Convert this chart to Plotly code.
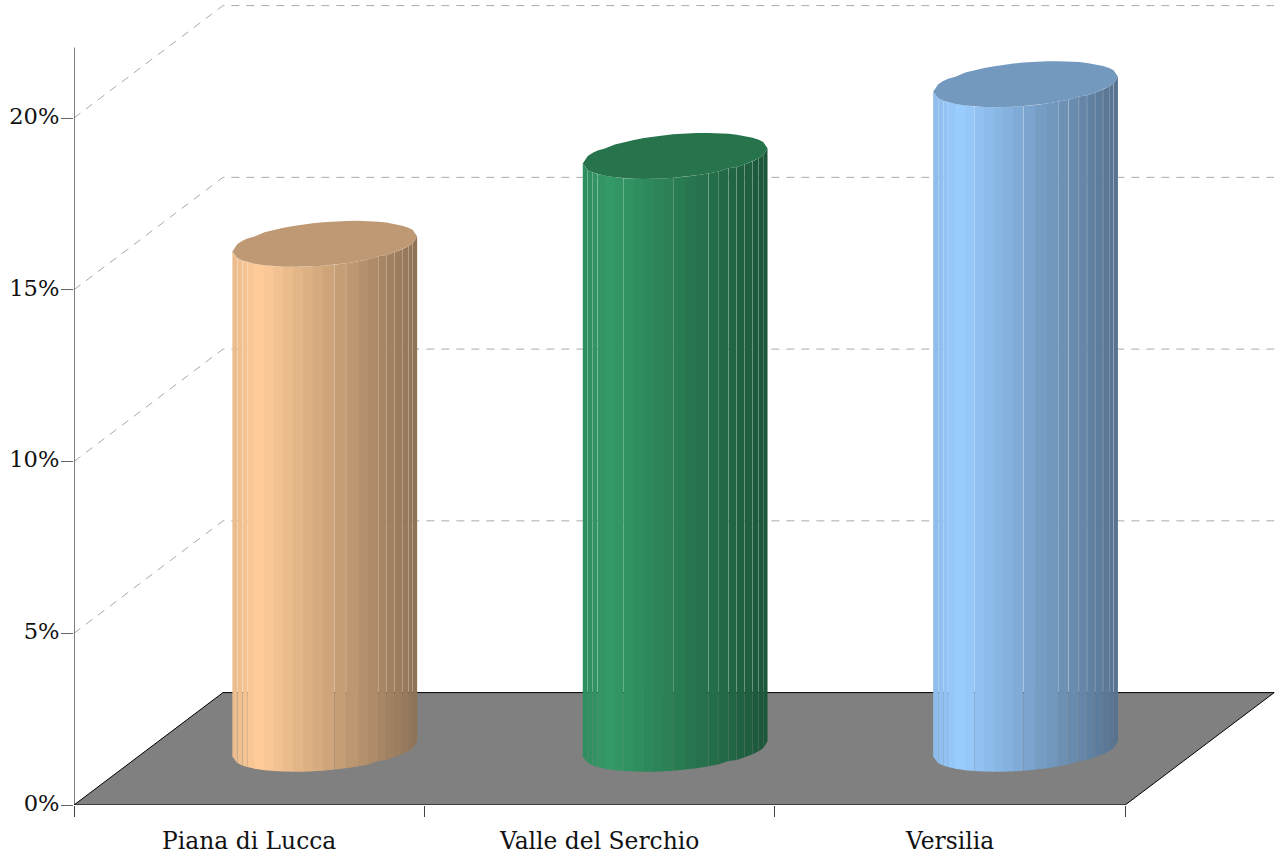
import math
import plotly.graph_objects as go

# ---- data ----
CATEGORIES = ["Piana di Lucca", "Valle del Serchio", "Versilia"]
VALUES = [14.70, 17.26, 19.35]
Y_TICKS = [0, 5, 10, 15, 20]
BASE_COLORS = [(255, 204, 153), (51, 153, 102), (153, 204, 255)]

# ---- projection and style ----
SLOT_PX = 350.4
PX_PER_PCT = 34.35
PLOT_W, PLOT_H = 1201, 805
N_SLOTS = len(CATEGORIES)
DX = 149 / SLOT_PX          # depth shift in category units
DY = 112.4 / PX_PER_PCT     # depth shift in percent units
AXIS_TOP = 22.05
HALF_W = 87.2 / SLOT_PX
HALF_D = 23.0 / 112.4
CX_NUDGE = 0.003
FACET_DEG = [180, 161, 153, 147, 139.5, 130.7, 123.7, 116.5, 109.7, 103.8, 97.5, 91.2,
             84, 76.6, 68.8, 62.2, 54.6, 48.2, 41.1, 32.9, 25.1, 17.6, 0]
SEAM_EDGES = [{1, 2, 3, 12, 13, 16, 17, 18, 19, 20, 21},
              {1, 2, 3, 6, 11, 14, 15, 16, 17, 18, 19, 20, 21},
              {1, 2, 3, 6, 11, 14, 15, 16, 17, 18, 19, 20, 21}]
LOWER_DENT = {54.6: -1.0}   # px, small kinks of the faceted outline
UPPER_DENT = {139.5: 0.9}
DELTA = math.degrees(math.atan2(HALF_D * DX, HALF_W))
FONT = "DejaVu Serif"
GRID_COLOR = "#aaaaaa"
OVERLAP = 0.7 / SLOT_PX
GAP = 0.2 / SLOT_PX


def outline(i, level, theta, dent_px=0.0):
    phi = math.radians(theta + DELTA)
    cx = i + 0.5 + 0.5 * DX + CX_NUDGE
    return (cx + HALF_W * math.cos(phi) + HALF_D * DX * math.sin(phi),
            0.5 * DY + level + HALF_D * DY * math.sin(phi) - dent_px / PX_PER_PCT)


def shade(c):
    off = c * 92
    if off < -65:
        return 1 - (-65 - off) * 0.08 / 27
    return 1 - 0.44 * (off + 65) / 157


def rgb(base, k):
    return "rgb(%d,%d,%d)" % tuple(round(v * k) for v in base)


def poly(xs, ys, color):
    return go.Scatter(x=xs, y=ys, mode="lines", fill="toself", fillcolor=color,
                      line=dict(width=0), hoverinfo="skip", showlegend=False)


def line(xs, ys, color, width=1, dash=None):
    return go.Scatter(x=xs, y=ys, mode="lines", hoverinfo="skip", showlegend=False,
                      line=dict(color=color, width=width, dash=dash))


fig = go.Figure()

# walls: dashed grid
for t in Y_TICKS[1:]:
    fig.add_trace(line([0, DX, N_SLOTS + DX], [t, t + DY, t + DY], GRID_COLOR, 1, "8px,7px"))

# floor
fig.add_trace(poly([0, N_SLOTS, N_SLOTS + DX, DX, 0], [0, 0, DY, DY, 0], "#808080"))
fig.add_trace(line([0, N_SLOTS, N_SLOTS + DX, DX, 0], [0, 0, DY, DY, 0], "#000000", 1))

# y axis line
fig.add_trace(line([0, 0], [0, AXIS_TOP], "#000000", 1))

# cylinders
for i, (val, base) in enumerate(zip(VALUES, BASE_COLORS)):
    for n, (a, b) in enumerate(zip(FACET_DEG[:-1], FACET_DEG[1:])):
        t0, t1 = 360 - a, 360 - b
        d0, d1 = LOWER_DENT.get(a, 0.0), LOWER_DENT.get(b, 0.0)
        p0, p1 = outline(i, 0, t0, d0), outline(i, 0, t1, d1)
        q0, q1 = outline(i, val, t0, d0), outline(i, val, t1, d1)
        ext = -GAP if (n + 1) in SEAM_EDGES[i] else OVERLAP
        if n + 1 == len(FACET_DEG) - 1:
            ext = 0
        mid = (math.cos(math.radians(t0)) + math.cos(math.radians(t1))) / 2
        fig.add_trace(poly([p0[0], p1[0] + ext, q1[0] + ext, q0[0], p0[0]],
                           [p0[1], p1[1], q1[1], q0[1], p0[1]], rgb(base, shade(mid))))
    top = [outline(i, val, 360 - a, LOWER_DENT.get(a, 0.0)) for a in FACET_DEG]
    top += [outline(i, val, a, UPPER_DENT.get(a, 0.0)) for a in reversed(FACET_DEG[:-1])]
    fig.add_trace(poly([p[0] for p in top], [p[1] for p in top], rgb(base, 0.75)))

fig.update_layout(
    width=1275, height=855, margin=dict(l=74, r=0, t=0, b=50, autoexpand=False),
    paper_bgcolor="white", plot_bgcolor="white", showlegend=False,
    font=dict(family=FONT, size=22, color="#111111"),
    xaxis=dict(range=[0, PLOT_W / SLOT_PX], showgrid=False, zeroline=False, showline=False,
               tickmode="array", tickvals=[k + 0.5 for k in range(N_SLOTS)], ticktext=CATEGORIES,
               ticks="outside", ticklen=0, tickwidth=0, ticklabelstandoff=15,
               tickfont=dict(family=FONT, size=23.4, color="#111111"),
               minor=dict(tickmode="array", tickvals=list(range(N_SLOTS + 1)), ticks="outside",
                          ticklen=11, tickcolor="#444444", tickwidth=1)),
    yaxis=dict(range=[0, PLOT_H / PX_PER_PCT], showgrid=False, zeroline=False, showline=False,
               tickmode="array", tickvals=Y_TICKS, ticktext=["%d%%" % t for t in Y_TICKS],
               ticks="outside", ticklen=12, tickcolor="#666666", tickwidth=1,
               ticklabelstandoff=-3, ticklabelshift=-2,
               tickfont=dict(family=FONT, size=22.6, color="#111111")),
)

fig.write_html("out.html", config=dict(displayModeBar=False),
               post_script="document.body.style.margin='0';")
